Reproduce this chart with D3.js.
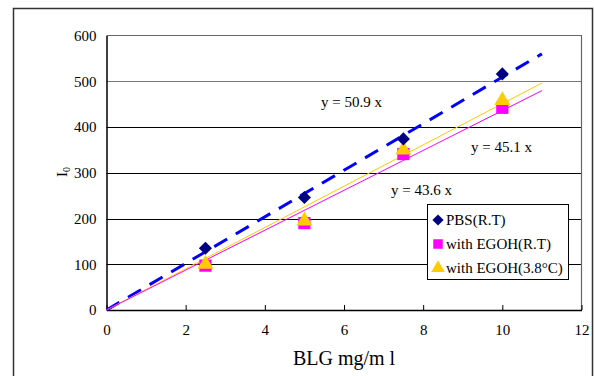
<!DOCTYPE html>
<html>
<head>
<meta charset="utf-8">
<script src="https://cdn.jsdelivr.net/npm/d3@7"></script>
<style>
  body { margin: 0; background: #fff; }
  svg text { font-family: "Liberation Serif", "Times New Roman", "DejaVu Serif", serif; }
</style>
</head>
<body>
<svg width="594" height="376"></svg>
<script>
// data
const conc = [2.5, 5, 7.5, 10];
const pbsRT = [135, 246, 374, 516];
const egohRT = [97, 190, 341, 442];
const egoh38 = [100, 195, 350, 458];
const slopes = [50.9, 45.1, 43.6];
const xTicks = [0, 2, 4, 6, 8, 10, 12];
const yTicks = [0, 100, 200, 300, 400, 500, 600];
const seriesNames = ['PBS(R.T)', 'with EGOH(R.T)', 'with EGOH(3.8°C)'];

const FONT = '"Liberation Serif", "Times New Roman", serif';

const svg = d3.select('svg');
const x = d3.scaleLinear().domain([0, 12]).range([106.5, 581.5]);
const y = d3.scaleLinear().domain([0, 600]).range([310, 35.5]);

// outer chart frame (bottom is cut off)
svg.append('path')
  .attr('d', 'M13.5,376 V8.5 H592.5 V376')
  .attr('fill', 'none').attr('stroke', '#333').attr('stroke-width', 1.5);

// grid lines
svg.append('g')
  .selectAll('line')
  .data(yTicks.filter(d => d > 0 && d < 600))
  .join('line')
    .attr('x1', x(0)).attr('x2', x(12))
    .attr('y1', d => Math.round(y(d)) + 0.5).attr('y2', d => Math.round(y(d)) + 0.5)
    .attr('stroke', d => d === 500 ? '#777' : '#000');

// plot frame top / right
svg.append('path')
  .attr('d', `M${x(0)},${y(600)} H${x(12)} V${y(0)}`)
  .attr('fill', 'none').attr('stroke', '#666').attr('stroke-width', 1.2);

// axes
const xAxis = d3.axisBottom(x).tickValues(xTicks).tickSizeInner(-5).tickSizeOuter(0).tickPadding(14);
const yAxis = d3.axisLeft(y).tickValues(yTicks).tickSize(0).tickPadding(10);

const gx = svg.append('g').attr('transform', `translate(0,${y(0)})`).call(xAxis);
const gy = svg.append('g').attr('transform', `translate(${x(0)},0)`).call(yAxis);
[gx, gy].forEach(g => {
  g.attr('font-family', FONT).attr('font-size', 15);
  g.select('.domain').attr('stroke', '#000').attr('stroke-width', 1.5);
  g.selectAll('.tick line').attr('stroke', '#000');
  g.selectAll('.tick text').attr('fill', '#000');
});

// trend lines, y = k x up to x = 11
const trendStyle = [
  { color: '#0000ff', width: 3, dash: '15,10' },
  { color: '#ffcc00', width: 1, dash: null },
  { color: '#ff00ff', width: 1, dash: null }
];
const line = d3.line().x(d => x(d[0])).y(d => y(d[1]));
slopes.forEach((k, i) => {
  svg.append('path')
    .datum([[0, 0], [11, 11 * k]])
    .attr('d', line)
    .attr('fill', 'none')
    .attr('stroke', trendStyle[i].color)
    .attr('stroke-width', trendStyle[i].width)
    .attr('stroke-dasharray', trendStyle[i].dash);
});

// markers
const diamond = d3.symbol().type(d3.symbolDiamond2).size(110);
const square = d3.symbol().type(d3.symbolSquare).size(150);
const triangle = d3.symbol().type(d3.symbolTriangle).size(110);

function plotSeries(vals, sym, color) {
  svg.append('g')
    .selectAll('path')
    .data(conc.map((c, i) => [c, vals[i]]))
    .join('path')
      .attr('transform', d => `translate(${x(d[0])},${y(d[1])})`)
      .attr('d', sym)
      .attr('fill', color);
}
plotSeries(egohRT, square, '#ff00ff');
plotSeries(egoh38, triangle, '#ffcc00');
plotSeries(pbsRT, diamond, '#000080');

// equation labels
const eqLabels = [
  { text: `y = ${slopes[0]} x`, x: 321, y: 107 },
  { text: `y = ${slopes[1]} x`, x: 471, y: 152 },
  { text: `y = ${slopes[2]} x`, x: 391, y: 195 }
];
svg.append('g')
  .selectAll('text')
  .data(eqLabels)
  .join('text')
    .attr('x', d => d.x).attr('y', d => d.y)
    .attr('font-family', FONT).attr('font-size', 15).attr('fill', '#000')
    .text(d => d.text);

// legend
const legend = svg.append('g');
legend.append('rect')
  .attr('x', 427.5).attr('y', 204.5).attr('width', 141).attr('height', 75)
  .attr('fill', '#fff').attr('stroke', '#000');
const legSyms = [
  { sym: d3.symbol().type(d3.symbolDiamond2).size(80), color: '#000080' },
  { sym: d3.symbol().type(d3.symbolSquare).size(90), color: '#ff00ff' },
  { sym: d3.symbol().type(d3.symbolTriangle).size(80), color: '#ffcc00' }
];
const legY = [220, 244, 268];
seriesNames.forEach((name, i) => {
  legend.append('path')
    .attr('transform', `translate(438,${legY[i]})`)
    .attr('d', legSyms[i].sym)
    .attr('fill', legSyms[i].color);
  legend.append('text')
    .attr('x', 446).attr('y', legY[i] + 5)
    .attr('font-family', FONT).attr('font-size', 15).attr('fill', '#000')
    .text(name);
});

// axis titles
svg.append('text')
  .attr('x', 344).attr('y', 365)
  .attr('text-anchor', 'middle')
  .attr('font-family', FONT).attr('font-size', 20).attr('fill', '#000')
  .text('BLG mg/m l');

const yt = svg.append('text')
  .attr('transform', 'translate(67,172) rotate(-90)')
  .attr('text-anchor', 'middle')
  .attr('font-family', FONT).attr('font-size', 15).attr('fill', '#000');
yt.append('tspan').text('I');
yt.append('tspan').attr('font-size', 10).attr('dy', 3).text('0');
</script>
</body>
</html>
